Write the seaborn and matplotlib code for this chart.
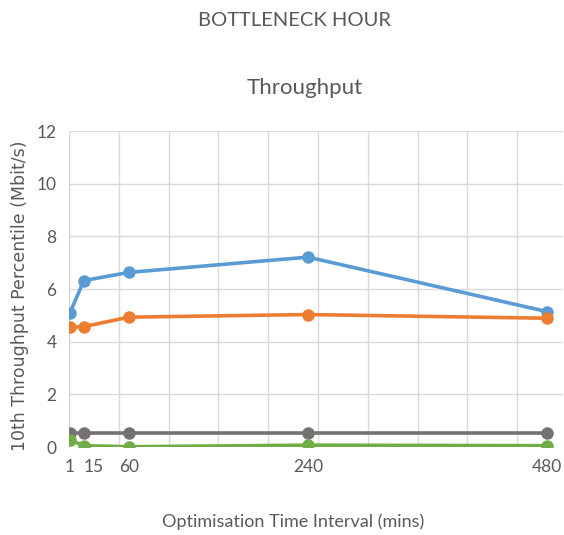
import matplotlib
matplotlib.use("Agg")
import matplotlib.pyplot as plt
from matplotlib.ticker import MultipleLocator, FixedLocator
import pandas as pd
import seaborn as sns

# Optimisation interval (minutes) and 10th-percentile throughput per configuration
intervals = [1, 15, 60, 240, 480]
tick_labels = ["1", "15", "60", "240", "480"]
series_names = ["Config 1", "Config 2", "Config 3", "Config 4"]
config_1 = [5.10, 6.32, 6.63, 7.21, 5.14]
config_2 = [4.55, 4.57, 4.93, 5.03, 4.89]
config_3 = [0.55, 0.55, 0.55, 0.55, 0.55]
config_4 = [0.27, 0.05, 0.01, 0.07, 0.05]
palette = ["#5B9BD5", "#ED7D31", "#767171", "#70AD47"]

df = pd.DataFrame({
    "interval": intervals * 4,
    "throughput": config_1 + config_2 + config_3 + config_4,
    "series": [n for n in series_names for _ in intervals],
})

sns.set_theme(style="white")
plt.rcParams["font.family"] = ["Lato", "DejaVu Sans"]
text_color = "#595959"

fig = plt.figure(figsize=(5.64, 5.35), dpi=100)
ax = fig.add_axes([69 / 564, 1 - 447 / 535, (563 - 69) / 564, (447 - 131) / 535])

sns.lineplot(data=df, x="interval", y="throughput", hue="series",
             palette=palette, marker="o", markersize=9, markeredgewidth=0,
             linewidth=2.6, legend=False, ax=ax, zorder=3)

ax.set_xlim(0, 496)
ax.set_ylim(0, 12)
ax.yaxis.set_major_locator(MultipleLocator(2))
ax.xaxis.set_major_locator(FixedLocator(intervals))
ax.set_xticklabels(tick_labels)
ax.xaxis.set_minor_locator(MultipleLocator(50))

ax.grid(False)
ax.grid(which="major", axis="y", color="#D9D9D9", linewidth=1.0)
ax.grid(which="minor", axis="x", color="#D9D9D9", linewidth=1.0)
ax.axvline(0, color="#D9D9D9", linewidth=1.0, zorder=0)
for s in ax.spines.values():
    s.set_visible(False)

ax.tick_params(axis="both", which="both", length=0, colors=text_color, labelsize=12.5)
ax.tick_params(axis="x", pad=9)
ax.tick_params(axis="y", pad=9)
# keep the "15" label clear of the "1" label
ax.get_xticklabels()[1].set_horizontalalignment("left")

ax.set_xlabel("Optimisation Time Interval (mins)", fontsize=13, color=text_color)
ax.xaxis.set_label_coords((293 - 69) / 494, (447 - 522) / 316)
ax.set_ylabel("10th Throughput Percentile (Mbit/s)", fontsize=12.5, color=text_color,
              family="DejaVu Sans")
ax.yaxis.set_label_coords((20 - 69) / 494, (447 - 296) / 316)
ax.yaxis.label.set_verticalalignment("center")
ax.xaxis.label.set_verticalalignment("center")

fig.text(294 / 564, 1 - 20 / 535, "BOTTLENECK HOUR", ha="center", va="center",
         fontsize=14.5, color=text_color)
fig.text(305 / 564, 1 - 88 / 535, "Throughput", ha="center", va="center",
         fontsize=16, color=text_color)

fig.savefig("out.png", dpi=100, facecolor="white")
